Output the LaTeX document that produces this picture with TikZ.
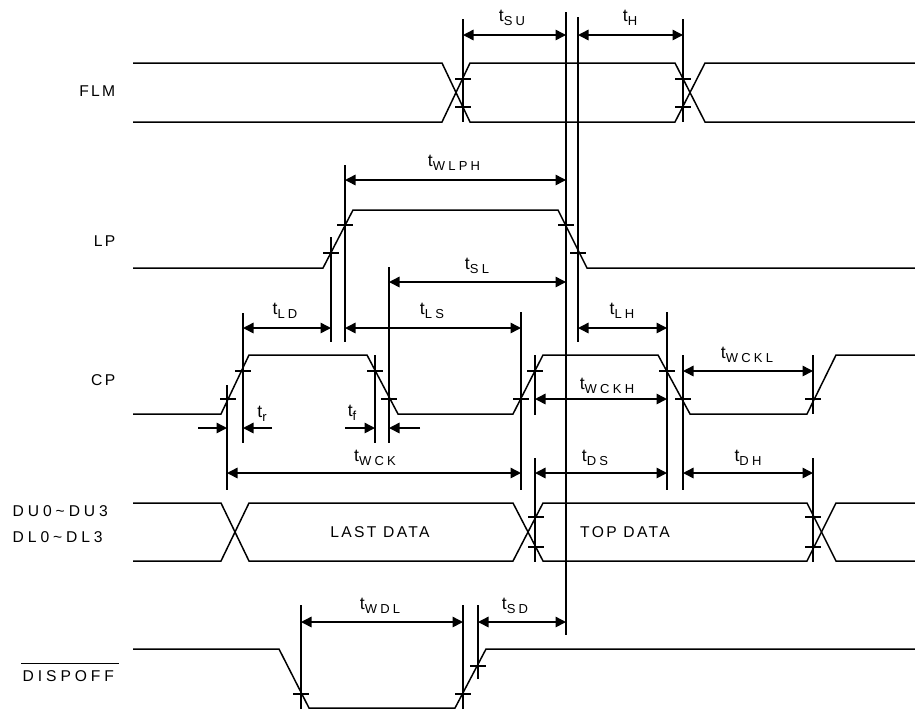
\documentclass[tikz,border=0pt]{standalone}
\usepackage{fontspec}
\setmainfont{Liberation Sans}
\newfontfamily\sigfont[LetterSpace=15]{Liberation Sans}
\newfontfamily\widefont[LetterSpace=25]{Liberation Sans}
\usetikzlibrary{arrows.meta}
\newcommand{\tsub}[1]{{\sigfont\fontsize{10}{11}\selectfont t}\raisebox{-2.2pt}{\widefont\fontsize{7.4}{8}\selectfont #1}}

\begin{document}
\begin{tikzpicture}[x=0.02cm,y=-0.02cm,line width=0.85pt,
  dim/.style={{Triangle[length=2.1mm,width=2.1mm]}-{Triangle[length=2.1mm,width=2.1mm]}},
  half/.style={-{Triangle[length=2.1mm,width=2.1mm]}},
  sig/.style={inner sep=0pt,font=\sigfont\fontsize{8.9}{10}\selectfont},
  wide/.style={inner sep=0pt,font=\widefont\fontsize{8.9}{10}\selectfont}]
\useasboundingbox (0,0) rectangle (915,714);

\node[sig,anchor=east] (flm) at (116,91) {FLM};
\node[sig,anchor=east] (lp) at (116,241) {LP};
\node[sig,anchor=east] (cp) at (116,380) {CP};
\node[wide,anchor=west] (du) at (12,511) {DU0\textasciitilde DU3};
\node[wide,anchor=west] (dl) at (12,537) {DL0\textasciitilde DL3};
\node[wide,anchor=west] (dispoff) at (22,676) {DISPOFF};
\draw ([shift={(-1,-6)}]dispoff.north west) -- ([shift={(4,-6)}]dispoff.north east);

\node[sig] (last) at (380,532) {LAST DATA};
\node[sig] (top) at (625,532) {TOP DATA};

% waveforms
\draw (133,63) -- (442,63) -- (470,122) -- (675,122) -- (705,63) -- (915,63);
\draw (133,122) -- (442,122) -- (470,63) -- (675,63) -- (705,122) -- (915,122);
\draw (133,268) -- (323,268) -- (353,210) -- (558,210) -- (587,268) -- (915,268);
\draw (133,414) -- (221,414) -- (249,355) -- (367,355) -- (398,414) -- (513,414)
  -- (543,355) -- (658,355) -- (690,414) -- (807,414) -- (836,355) -- (915,355);
\draw (133,503) -- (221,503) -- (249,561) -- (513,561) -- (543,503) -- (807,503) -- (836,561) -- (915,561);
\draw (133,561) -- (221,561) -- (249,503) -- (513,503) -- (543,561) -- (807,561) -- (836,503) -- (915,503);
\draw (133,649) -- (279,649) -- (309,708) -- (455,708) -- (486,649) -- (915,649);

% reference lines
\draw (463,19) -- (463,122);
\draw (566,12) -- (566,635);
\draw (578,17) -- (578,342);
\draw (683,19) -- (683,122);
\draw (345,165) -- (345,342);
\draw (331,237) -- (331,342);
\draw (389,267) -- (389,443);
\draw (243,313) -- (243,443);
\draw (227,385) -- (227,490);
\draw (375,355) -- (375,443);
\draw (521,312) -- (521,490);
\draw (535,355) -- (535,415);
\draw (535,458) -- (535,562);
\draw (667,312) -- (667,490);
\draw (683,355) -- (683,490);
\draw (813,355) -- (813,414);
\draw (813,458) -- (813,562);
\draw (301,605) -- (301,709);
\draw (463,605) -- (463,709);
\draw (478,605) -- (478,679);

% ticks
\draw (455,79) -- ++(16,0) (455,107) -- ++(16,0) (675,79) -- ++(16,0) (675,107) -- ++(16,0)
  (323,253) -- ++(16,0) (337,225) -- ++(16,0) (558,225) -- ++(16,0) (570,253) -- ++(16,0)
  (220,399) -- ++(16,0) (235,371) -- ++(16,0) (367,371) -- ++(16,0) (381,399) -- ++(16,0)
  (513,399) -- ++(16,0) (527,371) -- ++(16,0) (659,371) -- ++(16,0) (675,399) -- ++(16,0)
  (805,399) -- ++(16,0)
  (528,517) -- ++(16,0) (528,547) -- ++(16,0) (805,517) -- ++(16,0) (805,547) -- ++(16,0)
  (293,694) -- ++(16,0) (455,694) -- ++(16,0) (470,666) -- ++(16,0);

% timings
\draw[dim] (463,35) -- (566,35);
\node (tsu) at (512,18) {\tsub{SU}};
\draw[dim] (578,35) -- (683,35);
\node (th) at (630,18) {\tsub{H}};
\draw[dim] (345,180) -- (566,180);
\node (twlph) at (454,163) {\tsub{WLPH}};
\draw[dim] (389,282) -- (566,282);
\node (tsl) at (477,266) {\tsub{SL}};
\draw[dim] (243,328) -- (331,328);
\node (tld) at (285,311) {\tsub{LD}};
\draw[dim] (345,328) -- (521,328);
\node (tls) at (432,311) {\tsub{LS}};
\draw[dim] (578,328) -- (667,328);
\node (tlh) at (622,311) {\tsub{LH}};
\draw[dim] (683,371) -- (813,371);
\node (twckl) at (747,355) {\tsub{WCKL}};
\draw[dim] (535,399) -- (667,399);
\node (twckh) at (607,386) {\tsub{WCKH}};
\draw[half] (198,428) -- (227,428);
\draw[half] (272,428) -- (243,428);
\node (tr) at (262,414) {\tsub{r}};
\draw[half] (345,428) -- (375,428);
\draw[half] (420,428) -- (389,428);
\node (tf) at (352,413) {\tsub{f}};
\draw[dim] (227,473) -- (521,473);
\node (twck) at (375,458) {\tsub{WCK}};
\draw[dim] (535,473) -- (667,473);
\node (tds) at (595,458) {\tsub{DS}};
\draw[dim] (683,473) -- (813,473);
\node (tdh) at (748,458) {\tsub{DH}};
\draw[dim] (301,622) -- (463,622);
\node (twdl) at (380,606) {\tsub{WDL}};
\draw[dim] (478,622) -- (566,622);
\node (tsd) at (515,606) {\tsub{SD}};

\end{tikzpicture}
\end{document}
